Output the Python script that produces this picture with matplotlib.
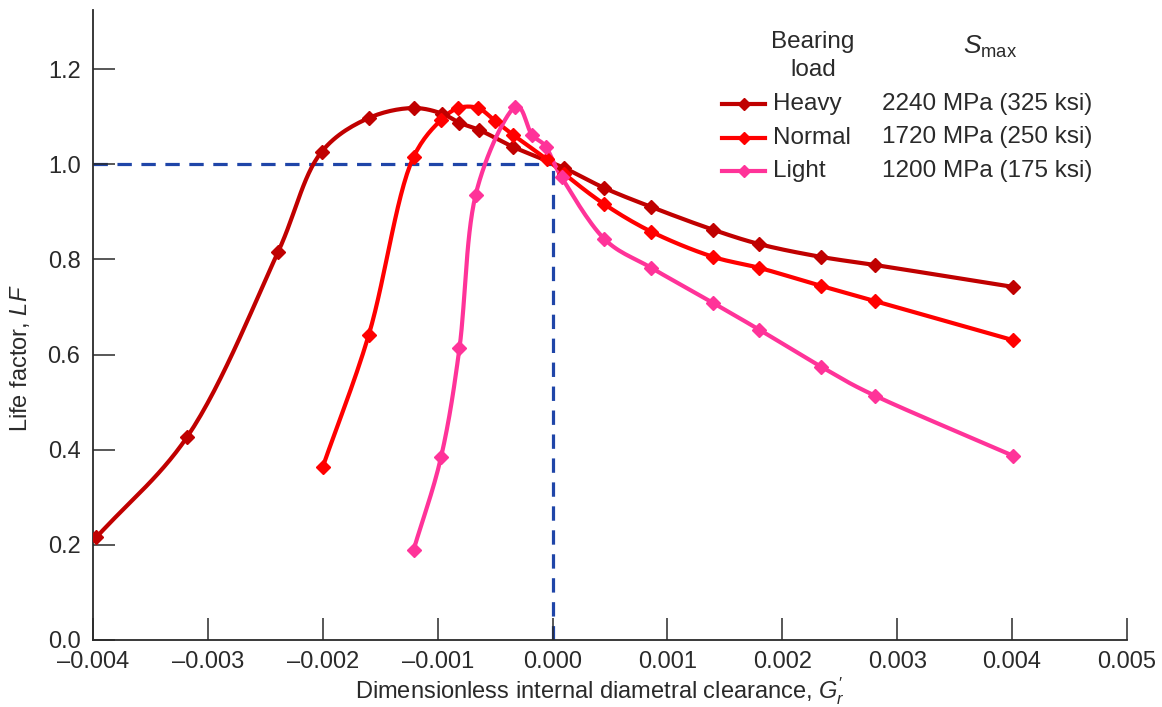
import numpy as np
import matplotlib
matplotlib.use("Agg")
import matplotlib.pyplot as plt
from matplotlib.lines import Line2D

plt.rcParams["font.family"] = ["Liberation Sans", "DejaVu Sans"]
plt.rcParams["mathtext.fontset"] = "custom"
plt.rcParams["mathtext.rm"] = "Liberation Sans"
plt.rcParams["mathtext.it"] = "Liberation Sans:italic"

# data
heavy_x = [-0.00397, -0.00318, -0.00239, -0.00201, -0.00160, -0.00121, -0.00096, -0.00081,
           -0.00064, -0.00034, 0.00010, 0.00045, 0.00086, 0.00140, 0.00180, 0.00234, 0.00281, 0.00401]
heavy_y = [0.216, 0.427, 0.815, 1.026, 1.097, 1.118, 1.106, 1.087,
           1.072, 1.036, 0.992, 0.950, 0.910, 0.862, 0.832, 0.805, 0.788, 0.742]

normal_x = [-0.00200, -0.00160, -0.00121, -0.00097, -0.00082, -0.00065, -0.00050, -0.00034,
            -0.00005, 0.00010, 0.00045, 0.00086, 0.00140, 0.00180, 0.00234, 0.00281, 0.00401]
normal_y = [0.364, 0.641, 1.015, 1.093, 1.118, 1.118, 1.091, 1.061,
            1.010, 0.980, 0.916, 0.858, 0.805, 0.782, 0.744, 0.712, 0.630]

light_x = [-0.00121, -0.00097, -0.00081, -0.00067, -0.00033, -0.00018, -0.00006,
           0.00008, 0.00045, 0.00086, 0.00140, 0.00180, 0.00234, 0.00281, 0.00401]
light_y = [0.189, 0.385, 0.614, 0.935, 1.120, 1.062, 1.037,
           0.972, 0.843, 0.782, 0.708, 0.652, 0.574, 0.513, 0.387]

loads = ["Heavy", "Normal", "Light"]
stresses = ["2240 MPa (325 ksi)", "1720 MPa (250 ksi)", "1200 MPa (175 ksi)"]
colors = ["#C00000", "#FF0000", "#FF3399"]

x_ticks = [-0.004, -0.003, -0.002, -0.001, 0.0, 0.001, 0.002, 0.003, 0.004, 0.005]
y_ticks = [0.0, 0.2, 0.4, 0.6, 0.8, 1.0, 1.2]

TXT = "#2a2a2a"


def smooth(x, y, n=16, alpha=0.5):
    """Catmull-Rom curve through the points (drawing only)."""
    px = np.asarray(x) / 0.009
    py = np.asarray(y) / 1.32 * 0.61
    pts = np.column_stack([px, py])
    pts = np.vstack([2 * pts[0] - pts[1], pts, 2 * pts[-1] - pts[-2]])
    out = []
    for i in range(1, len(pts) - 2):
        p0, p1, p2, p3 = pts[i - 1], pts[i], pts[i + 1], pts[i + 2]
        t0 = 0.0
        t1 = t0 + np.linalg.norm(p1 - p0) ** alpha
        t2 = t1 + np.linalg.norm(p2 - p1) ** alpha
        t3 = t2 + np.linalg.norm(p3 - p2) ** alpha
        t = np.linspace(t1, t2, n)[:, None]
        a1 = (t1 - t) / (t1 - t0) * p0 + (t - t0) / (t1 - t0) * p1
        a2 = (t2 - t) / (t2 - t1) * p1 + (t - t1) / (t2 - t1) * p2
        a3 = (t3 - t) / (t3 - t2) * p2 + (t - t2) / (t3 - t2) * p3
        b1 = (t2 - t) / (t2 - t0) * a1 + (t - t0) / (t2 - t0) * a2
        b2 = (t3 - t) / (t3 - t1) * a2 + (t - t1) / (t3 - t1) * a3
        c = (t2 - t) / (t2 - t1) * b1 + (t - t1) / (t2 - t1) * b2
        out.append(c)
    out = np.vstack(out)
    return out[:, 0] * 0.009, out[:, 1] / 0.61 * 1.32


fig = plt.figure(figsize=(11.62, 7.07), dpi=100)
ax = fig.add_axes([93 / 1162, 1 - 640 / 707, (1127 - 93) / 1162, (640 - 10) / 707])

dash = dict(color="#1F45A8", lw=2.3, ls=(0, (4.5, 3)), zorder=1)
ax.plot([-0.004, 0.0], [1.0, 1.0], **dash)
ax.plot([0.0, 0.0], [0.0, 1.0], **dash)

series = [(heavy_x, heavy_y), (normal_x, normal_y), (light_x, light_y)]
alphas = [0.5, 0.5, 0.15]
for (xs, ys), c, a in zip(series, colors, alphas):
    sx, sy = smooth(xs, ys, alpha=a)
    ax.plot(sx, sy, color=c, lw=3, solid_capstyle="round", zorder=2)
    ax.plot(xs, ys, ls="none", marker="D", ms=7.5, color=c, zorder=3)

ax.set_xlim(-0.004, 0.005)
ax.set_ylim(0, 1.324)
ax.set_xticks(x_ticks)
ax.set_xticklabels([f"{v:.3f}".replace("-", "\u2013") for v in x_ticks])
ax.set_yticks(y_ticks)
ax.set_yticklabels([f"{v:.1f}" for v in y_ticks])
ax.tick_params(direction="in", length=16, width=1.1, labelsize=17, colors=TXT)
ax.tick_params(axis="y", pad=9)
ax.tick_params(axis="x", pad=8)
for side in ["top", "right"]:
    ax.spines[side].set_visible(False)
for side in ["left", "bottom"]:
    ax.spines[side].set_linewidth(1.3)
    ax.spines[side].set_color(TXT)

ax.set_xlabel(r"Dimensionless internal diametral clearance, $G_r^{\prime}$", fontsize=17, color=TXT)
ax.set_ylabel(r"Life factor, $LF$", fontsize=17, color=TXT)
ax.xaxis.set_label_coords((600 - 93) / 1034, -(691 - 640) / 630)
ax.yaxis.set_label_coords(-(93 - 20) / 1034, (640 - 358) / 630)
ax.xaxis.label.set_va("center")
ax.yaxis.label.set_va("center")


# legend built by hand
def fx(px):
    return px / 1162


def fy(py):
    return 1 - py / 707


fig.text(fx(813), fy(56), "Bearing\nload", ha="center", va="center", fontsize=17.5,
         color=TXT, linespacing=1.3)
fig.text(fx(990), fy(47), r"$S_{\mathrm{max}}$", ha="center", va="center", fontsize=19,
         color=TXT)
for i, (name, val, c) in enumerate(zip(loads, stresses, colors)):
    yy = fy(104 + i * 33.5)
    fig.add_artist(Line2D([fx(722), fx(765)], [yy, yy], color=c, lw=3, transform=fig.transFigure))
    fig.add_artist(Line2D([fx(743.5)], [yy], marker="D", ms=6, color=c, transform=fig.transFigure))
    fig.text(fx(773), yy, name, ha="left", va="center", fontsize=17.5, color=TXT)
    fig.text(fx(882), yy, val, ha="left", va="center", fontsize=17.5, color=TXT)

fig.savefig("out.png", dpi=100)
